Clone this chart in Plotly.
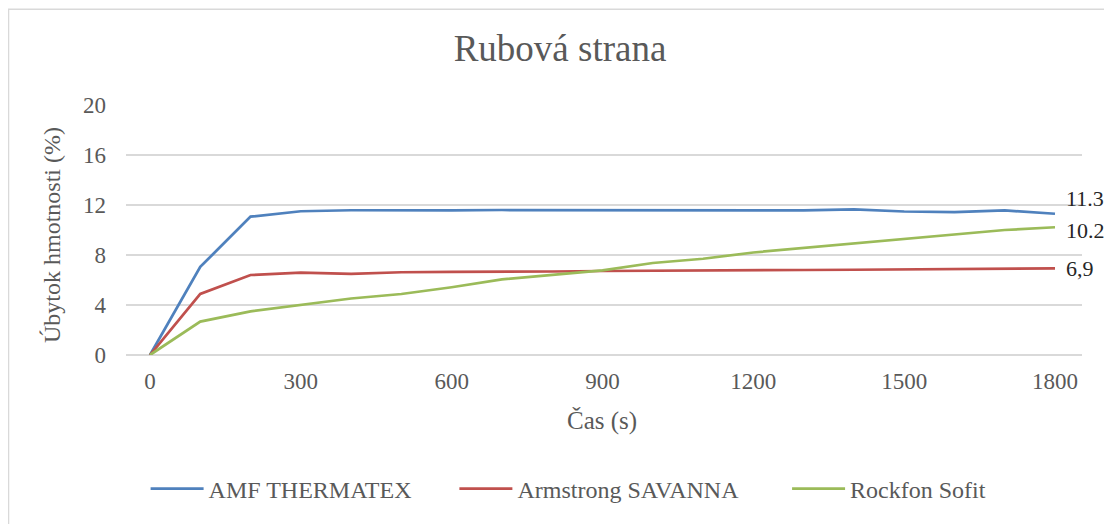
import plotly.graph_objects as go

time_s = [0, 100, 200, 300, 400, 500, 600, 700, 800, 900, 1000, 1100, 1200, 1300, 1400, 1500, 1600, 1700, 1800]
amf = [0, 7.05, 11.07, 11.5, 11.58, 11.55, 11.57, 11.6, 11.6, 11.57, 11.55, 11.57, 11.6, 11.57, 11.65, 11.48, 11.43, 11.57, 11.3]
armstrong = [0, 4.88, 6.4, 6.58, 6.5, 6.62, 6.65, 6.65, 6.68, 6.72, 6.75, 6.8, 6.77, 6.8, 6.82, 6.85, 6.9, 6.92, 6.93]
rockfon = [0, 2.67, 3.49, 4.0, 4.52, 4.88, 5.42, 6.05, 6.4, 6.77, 7.36, 7.7, 8.2, 8.55, 8.95, 9.3, 9.63, 10.0, 10.22]
series_names = ["AMF THERMATEX", "Armstrong SAVANNA", "Rockfon Sofit"]
colors = ["#4F81BD", "#C0504D", "#9BBB59"]
end_labels = ["11.3", "10.2", "6,9"]
label_shift = [15, -3, 0]
x_ticks = [0, 300, 600, 900, 1200, 1500, 1800]
y_ticks = [0, 4, 8, 12, 16, 20]

font = "Liberation Serif"
grey = "#595959"

fig = go.Figure()
legend_ids = ["legend", "legend2", "legend3"]
for name, ys, c, lg in zip(series_names, [amf, armstrong, rockfon], colors, legend_ids):
    fig.add_trace(go.Scatter(x=time_s, y=ys, name=name, mode="lines", legend=lg,
                             line=dict(color=c, width=2.75)))

for ys, lab, sh in zip([amf, rockfon, armstrong], end_labels, label_shift):
    fig.add_annotation(x=time_s[-1], y=ys[-1], text=lab, showarrow=False,
                       xanchor="left", xshift=9, yshift=sh,
                       font=dict(family=font, size=22, color="#262626"))

# axis titles
fig.add_annotation(x=0.498, y=-0.262, xref="paper", yref="paper", text="Čas (s)",
                   showarrow=False, xanchor="center", yanchor="middle",
                   font=dict(family=font, size=25, color=grey))
fig.add_annotation(x=-0.0774, y=0.48, xref="paper", yref="paper", text="Úbytok hmotnosti (%)",
                   showarrow=False, xanchor="center", yanchor="middle", textangle=-90,
                   font=dict(family=font, size=24, color=grey))

fig.add_shape(type="rect", xref="paper", yref="paper",
              x0=-0.1229, x1=1.0298, y0=-0.70, y1=1.3829,
              line=dict(color="#D9D9D9", width=1.5), fillcolor="rgba(0,0,0,0)", layer="below")

legend_style = dict(orientation="h", yanchor="middle", y=-0.536, xanchor="left",
                    font=dict(family=font, size=24, color=grey), itemwidth=53,
                    bgcolor="rgba(0,0,0,0)")
fig.update_layout(
    width=1104, height=516,
    margin=dict(l=118, r=30, t=97, b=167),
    paper_bgcolor="white", plot_bgcolor="white",
    title=dict(text="Rubová strana", x=0.5, xanchor="center", y=0.9225, yanchor="middle",
               xref="container", yref="container",
               font=dict(family=font, size=37, color=grey)),
    font=dict(family=font, size=23, color=grey),
    legend=dict(x=0.0205, **legend_style),
    legend2=dict(x=0.3435, **legend_style),
    legend3=dict(x=0.6915, **legend_style),
    showlegend=True,
)
fig.update_xaxes(range=[-47.7, 1853.7], tickvals=x_ticks, showgrid=False, zeroline=False,
                 showline=False, ticks="", ticklabelstandoff=10,
                 tickfont=dict(family=font, size=23, color=grey))
fig.update_yaxes(range=[0, 20], tickvals=y_ticks, showgrid=True, gridcolor="#D9D9D9", gridwidth=1.5,
                 zeroline=True, zerolinecolor="#D9D9D9", zerolinewidth=1.5,
                 showline=False, ticks="", ticklabelstandoff=19,
                 tickfont=dict(family=font, size=23, color=grey))

fig.write_html("out.html")
